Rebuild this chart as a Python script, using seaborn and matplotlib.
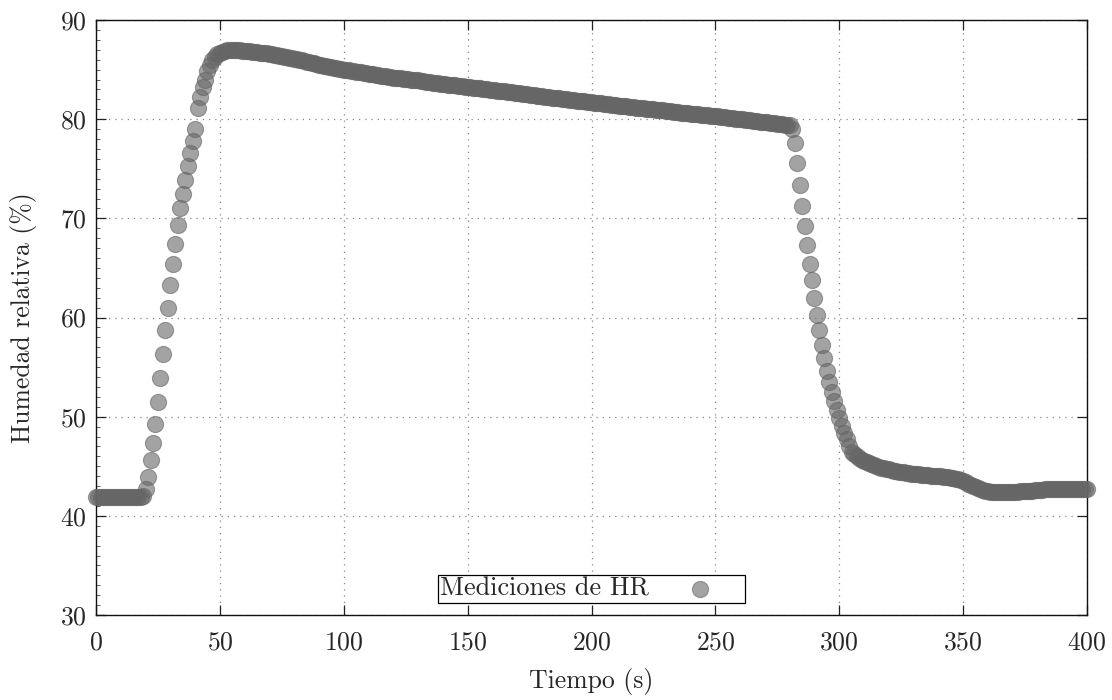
import matplotlib
matplotlib.use("Agg")
import matplotlib.pyplot as plt
import seaborn as sns
import pandas as pd
from matplotlib.ticker import MultipleLocator

# ---------------- data ----------------
time_s = list(range(0, 401))

hr_pct = [
    41.9, 41.9, 41.9, 41.9, 41.9, 41.9, 41.9, 41.9, 41.9, 41.9,
    41.9, 41.9, 41.9, 41.9, 41.9, 41.9, 41.9, 41.9, 41.9, 42.0,
    42.7, 43.9, 45.6, 47.3, 49.3, 51.5, 53.9, 56.3, 58.7, 61.0,
    63.3, 65.4, 67.4, 69.3, 71.0, 72.5, 73.9, 75.3, 76.6, 77.8,
    79.0, 81.1, 82.2, 83.2, 84.0, 84.9, 85.5, 85.95, 86.3, 86.55,
    86.7, 86.8, 86.88, 86.93, 86.96, 86.97, 86.97, 86.96, 86.94, 86.92,
    86.90, 86.87, 86.84, 86.81, 86.78, 86.75, 86.72, 86.69, 86.66, 86.63,
    86.60, 86.55, 86.50, 86.45, 86.40, 86.35, 86.30, 86.25, 86.20, 86.15,
    86.10, 86.04, 85.98, 85.92, 85.86, 85.80, 85.74, 85.68, 85.62, 85.56,
    85.50, 85.45, 85.40, 85.35, 85.30, 85.25, 85.20, 85.15, 85.10, 85.05,
    85.00, 84.96, 84.92, 84.88, 84.84, 84.80, 84.76, 84.72, 84.68, 84.64,
    84.60, 84.56, 84.52, 84.48, 84.44, 84.40, 84.36, 84.32, 84.28, 84.24,
    84.20, 84.17, 84.14, 84.11, 84.08, 84.05, 84.02, 83.99, 83.96, 83.93,
    83.90, 83.86, 83.83, 83.79, 83.76, 83.72, 83.69, 83.65, 83.62, 83.58,
    83.55, 83.52, 83.49, 83.46, 83.43, 83.40, 83.37, 83.34, 83.31, 83.28,
    83.25, 83.22, 83.19, 83.16, 83.13, 83.10, 83.07, 83.04, 83.01, 82.98,
    82.95, 82.92, 82.89, 82.86, 82.83, 82.80, 82.77, 82.74, 82.71, 82.68,
    82.65, 82.61, 82.58, 82.54, 82.51, 82.47, 82.44, 82.40, 82.37, 82.33,
    82.30, 82.27, 82.24, 82.21, 82.18, 82.15, 82.12, 82.09, 82.06, 82.03,
    82.00, 81.97, 81.94, 81.91, 81.88, 81.85, 81.82, 81.79, 81.76, 81.73,
    81.70, 81.67, 81.64, 81.61, 81.58, 81.55, 81.52, 81.49, 81.46, 81.43,
    81.40, 81.37, 81.34, 81.31, 81.28, 81.25, 81.22, 81.19, 81.16, 81.13,
    81.10, 81.08, 81.05, 81.03, 81.00, 80.98, 80.95, 80.93, 80.90, 80.88,
    80.85, 80.82, 80.79, 80.76, 80.73, 80.70, 80.67, 80.64, 80.61, 80.58,
    80.55, 80.53, 80.50, 80.48, 80.45, 80.43, 80.40, 80.38, 80.35, 80.33,
    80.30, 80.27, 80.24, 80.21, 80.18, 80.15, 80.12, 80.09, 80.06, 80.03,
    80.00, 79.97, 79.94, 79.91, 79.88, 79.85, 79.82, 79.79, 79.76, 79.73,
    79.70, 79.67, 79.64, 79.61, 79.58, 79.55, 79.52, 79.49, 79.46, 79.43,
    79.40, 79.00, 77.55, 75.56, 73.33, 71.24, 69.22, 67.27, 65.42, 63.75,
    61.95, 60.27, 58.76, 57.27, 55.93, 54.65, 53.47, 52.46, 51.55, 50.67,
    49.87, 49.10, 48.40, 47.75, 47.07, 46.45, 46.20, 46.00, 45.82, 45.66,
    45.52, 45.40, 45.29, 45.19, 45.10, 45.02, 44.94, 44.87, 44.80, 44.74,
    44.68, 44.62, 44.57, 44.52, 44.47, 44.42, 44.38, 44.34, 44.30, 44.26,
    44.23, 44.20, 44.17, 44.14, 44.11, 44.09, 44.07, 44.05, 44.03, 44.02,
    44.00, 43.98, 43.96, 43.93, 43.90, 43.86, 43.81, 43.75, 43.68, 43.60,
    43.50, 43.38, 43.26, 43.13, 43.00, 42.88, 42.77, 42.67, 42.59, 42.52,
    42.47, 42.44, 42.42, 42.41, 42.40, 42.40, 42.40, 42.40, 42.41, 42.42,
    42.43, 42.44, 42.45, 42.46, 42.47, 42.48, 42.50, 42.52, 42.55, 42.58,
    42.61, 42.63, 42.65, 42.67, 42.68, 42.69, 42.70, 42.70, 42.70, 42.70,
    42.70, 42.71, 42.71, 42.72, 42.72, 42.72, 42.72, 42.72, 42.72, 42.72,
    42.72,
]

x_ticks = [0, 50, 100, 150, 200, 250, 300, 350, 400]
y_ticks = [30, 40, 50, 60, 70, 80, 90]
x_label = "Tiempo (s)"
y_label = "Humedad relativa (%)"
legend_label = "Mediciones de HR"

df = pd.DataFrame({"t": time_s, "hr": hr_pct})

# ---------------- style ----------------
sns.set_style("ticks")
plt.rcParams["font.family"] = ["cmr10", "DejaVu Serif"]
plt.rcParams["axes.formatter.use_mathtext"] = True
plt.rcParams["mathtext.fontset"] = "cm"

FS = 18.5

fig = plt.figure(figsize=(11.12, 7.0), dpi=100)
ax = fig.add_axes([96 / 1112, 1 - 615 / 700, (1087 - 96) / 1112, (615 - 20) / 700])

sns.scatterplot(data=df, x="t", y="hr", ax=ax, s=135, color="#666666",
                alpha=0.6, edgecolor="#666666", linewidth=0.8,
                label=legend_label, zorder=3, clip_on=False)

ax.set_xlim(0, 400)
ax.set_ylim(30, 90)
ax.set_xticks(x_ticks)
ax.set_yticks(y_ticks)
ax.yaxis.set_minor_locator(MultipleLocator(1))
ax.tick_params(axis="both", which="major", direction="in", length=7, width=0.9,
               top=True, right=True, labelsize=FS, color="#222222")
ax.tick_params(axis="x", which="major", pad=11)
ax.tick_params(axis="y", which="major", pad=7)
ax.tick_params(axis="y", which="minor", direction="in", length=3, width=0.6,
               left=True, right=False, color="#444444")
for sp in ax.spines.values():
    sp.set_linewidth(1.0)
    sp.set_color("#111111")

ax.grid(True, which="major", linestyle=(0, (1, 4)), color="#888888", linewidth=0.9)
ax.set_axisbelow(True)

ax.set_xlabel(x_label, fontsize=FS, labelpad=10)
ax.set_ylabel(y_label, fontsize=FS, labelpad=16)

leg = ax.legend(loc="lower center", bbox_to_anchor=(0.5, 0.02), borderaxespad=0,
                markerfirst=False, fontsize=18.9, frameon=True, fancybox=False,
                handlelength=3.3, handletextpad=0.3, borderpad=0.08,
                edgecolor="black", framealpha=1.0)
leg.get_frame().set_linewidth(0.9)

fig.savefig("out.png", dpi=100)
